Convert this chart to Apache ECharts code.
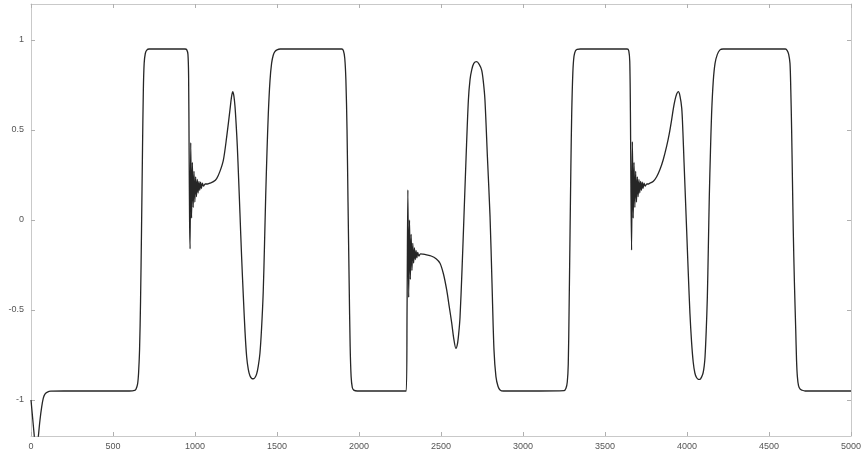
<!DOCTYPE html>
<html>
<head>
<meta charset="utf-8">
<script src="https://cdn.jsdelivr.net/npm/echarts@6/dist/echarts.min.js"></script>
<style>
  html, body { margin: 0; padding: 0; background: #fff; }
  #chart { width: 866px; height: 461px; }
</style>
</head>
<body>
<div id="chart"></div>
<script>
// Axis tick labels
const xTicks = [0, 500, 1000, 1500, 2000, 2500, 3000, 3500, 4000, 4500, 5000];
const yTicks = [-1, -0.5, 0, 0.5, 1];

// Signal, section by section: [x, y]
const initialDip = [[0,-1.0],[10,-1.1],[20,-1.2],[32,-1.32],[45,-1.2],[55,-1.11],[65,-1.04],[75,-0.99],[85,-0.967],[100,-0.956],[120,-0.951],[200,-0.95],[400,-0.95],[600,-0.95],[632,-0.947]];
const firstPulse = [[640,-0.94],[650,-0.91],[656,-0.85],[662,-0.72],[668,-0.45],[674,-0.05],[680,0.4],[685,0.72],[690,0.87],[697,0.925],[706,0.944],[720,0.95],[800,0.95],[940,0.95],[950,0.945],[957,0.92],[961,0.8],[964,0.4],[967,0.0],[970,-0.16]];
const firstRinging = [[974,0.43],[979,0.01],[984,0.32],[989,0.07],[994,0.27],[999,0.1],[1004,0.24],[1009,0.13],[1014,0.225],[1019,0.15],[1024,0.215],[1029,0.165],[1034,0.21],[1039,0.175],[1045,0.205],[1052,0.188],[1062,0.2],[1075,0.2]];
const firstBump = [[1091,0.205],[1112,0.213],[1132,0.23],[1152,0.27],[1173,0.333],[1193,0.46],[1213,0.61],[1222,0.68],[1230,0.713],[1237,0.69],[1244,0.63],[1251,0.53],[1258,0.41],[1266,0.23],[1274,0.04],[1284,-0.2],[1295,-0.43],[1305,-0.62],[1315,-0.76],[1325,-0.83],[1335,-0.865],[1346,-0.88],[1356,-0.882],[1366,-0.875],[1376,-0.855],[1386,-0.81],[1396,-0.74],[1406,-0.6],[1416,-0.4],[1424,-0.13],[1431,0.13],[1439,0.38],[1447,0.59],[1457,0.77],[1467,0.87],[1477,0.915],[1487,0.935],[1500,0.945],[1520,0.95]];
const secondPulse = [[1700,0.95],[1895,0.95],[1905,0.94],[1913,0.9],[1920,0.78],[1927,0.5],[1933,0.1],[1940,-0.35],[1946,-0.7],[1952,-0.87],[1959,-0.93],[1968,-0.945],[1990,-0.95],[2200,-0.95],[2288,-0.95]];
const secondRinging = [[2293,-0.5],[2298,0.167],[2303,-0.43],[2308,0.0],[2313,-0.33],[2318,-0.08],[2323,-0.28],[2328,-0.13],[2333,-0.24],[2338,-0.155],[2343,-0.22],[2348,-0.17],[2353,-0.21],[2358,-0.18],[2365,-0.2],[2375,-0.188],[2390,-0.19]];
const secondDip = [[2412,-0.194],[2440,-0.2],[2470,-0.215],[2494,-0.24],[2515,-0.3],[2535,-0.39],[2550,-0.48],[2565,-0.57],[2578,-0.66],[2591,-0.713],[2600,-0.69],[2608,-0.63],[2616,-0.54],[2628,-0.28],[2640,0.02],[2653,0.35],[2667,0.667],[2677,0.78],[2687,0.833],[2700,0.87],[2717,0.88],[2733,0.865],[2748,0.833],[2758,0.77],[2768,0.667],[2783,0.35],[2799,0.02],[2811,-0.35],[2823,-0.72],[2835,-0.87],[2848,-0.925],[2860,-0.944],[2880,-0.95],[3100,-0.95],[3250,-0.948]];
const thirdPulse = [[3262,-0.935],[3270,-0.9],[3276,-0.8],[3281,-0.5],[3287,-0.06],[3292,0.3],[3297,0.59],[3304,0.82],[3311,0.91],[3320,0.94],[3330,0.948],[3350,0.95],[3500,0.95],[3635,0.95],[3645,0.94],[3651,0.88],[3655,0.6],[3658,0.2],[3662,-0.167]];
const thirdRinging = [[3667,0.435],[3672,0.01],[3677,0.32],[3682,0.07],[3687,0.27],[3692,0.1],[3697,0.24],[3702,0.13],[3707,0.225],[3712,0.15],[3717,0.215],[3722,0.165],[3727,0.21],[3732,0.175],[3738,0.205],[3745,0.188],[3755,0.2],[3765,0.2]];
const thirdBump = [[3774,0.205],[3795,0.215],[3815,0.24],[3835,0.28],[3855,0.335],[3876,0.41],[3892,0.48],[3906,0.555],[3917,0.62],[3927,0.667],[3937,0.7],[3947,0.713],[3957,0.69],[3968,0.62],[3975,0.49],[3982,0.32],[3990,0.13],[3998,-0.06],[4008,-0.3],[4018,-0.52],[4028,-0.68],[4038,-0.79],[4048,-0.85],[4058,-0.875],[4069,-0.885],[4079,-0.885],[4090,-0.87],[4098,-0.85],[4105,-0.81],[4110,-0.76],[4117,-0.62],[4124,-0.43],[4130,-0.16],[4136,0.13],[4143,0.38],[4150,0.59],[4160,0.77],[4171,0.87],[4185,0.92],[4201,0.945],[4220,0.95]];
const lastPulse = [[4400,0.95],[4600,0.95],[4612,0.94],[4620,0.92],[4628,0.87],[4633,0.72],[4638,0.5],[4643,0.22],[4648,-0.06],[4655,-0.35],[4663,-0.61],[4668,-0.78],[4673,-0.87],[4680,-0.92],[4690,-0.94],[4700,-0.945],[4720,-0.95],[5000,-0.95]];

const signal = [].concat(initialDip, firstPulse, firstRinging, firstBump, secondPulse,
  secondRinging, secondDip, thirdPulse, thirdRinging, thirdBump, lastPulse);

const frameColor = '#c9c9c9';
const tickColor = '#b0b0b0';
const labelStyle = { color: '#555', fontSize: 9, fontFamily: 'Liberation Sans, Arial, sans-serif' };

function xAxisDef(pos, labels) {
  return {
    type: 'value', position: pos, min: 0, max: 5000, interval: 500,
    axisLine: { show: true, onZero: false, lineStyle: { color: frameColor, width: 1 } },
    axisTick: { show: true, inside: true, length: 4, lineStyle: { color: tickColor } },
    axisLabel: Object.assign({ show: labels, margin: 6, formatter: v => String(v) }, labelStyle),
    splitLine: { show: false }
  };
}
function yAxisDef(pos, labels) {
  return {
    type: 'value', position: pos, min: -1.2, max: 1.2,
    axisLine: { show: true, onZero: false, lineStyle: { color: frameColor, width: 1 } },
    axisTick: { show: true, inside: true, length: 4, customValues: yTicks, lineStyle: { color: tickColor } },
    axisLabel: Object.assign({ show: labels, margin: 7, customValues: yTicks, formatter: v => String(v) }, labelStyle),
    splitLine: { show: false }
  };
}

const chart = echarts.init(document.getElementById('chart'), null, { renderer: 'canvas' });
chart.setOption({
  animation: false,
  backgroundColor: '#fff',
  grid: { left: 31, right: 15, top: 4, bottom: 25, containLabel: false, outerBoundsMode: 'none' },
  xAxis: [xAxisDef('bottom', true), xAxisDef('top', false)],
  yAxis: [yAxisDef('left', true), yAxisDef('right', false)],
  series: [{
    type: 'line',
    data: signal,
    xAxisIndex: 0, yAxisIndex: 0,
    showSymbol: false,
    smooth: 0.3,
    clip: true,
    lineStyle: { color: '#262626', width: 1.3 }
  }]
});
</script>
</body>
</html>
